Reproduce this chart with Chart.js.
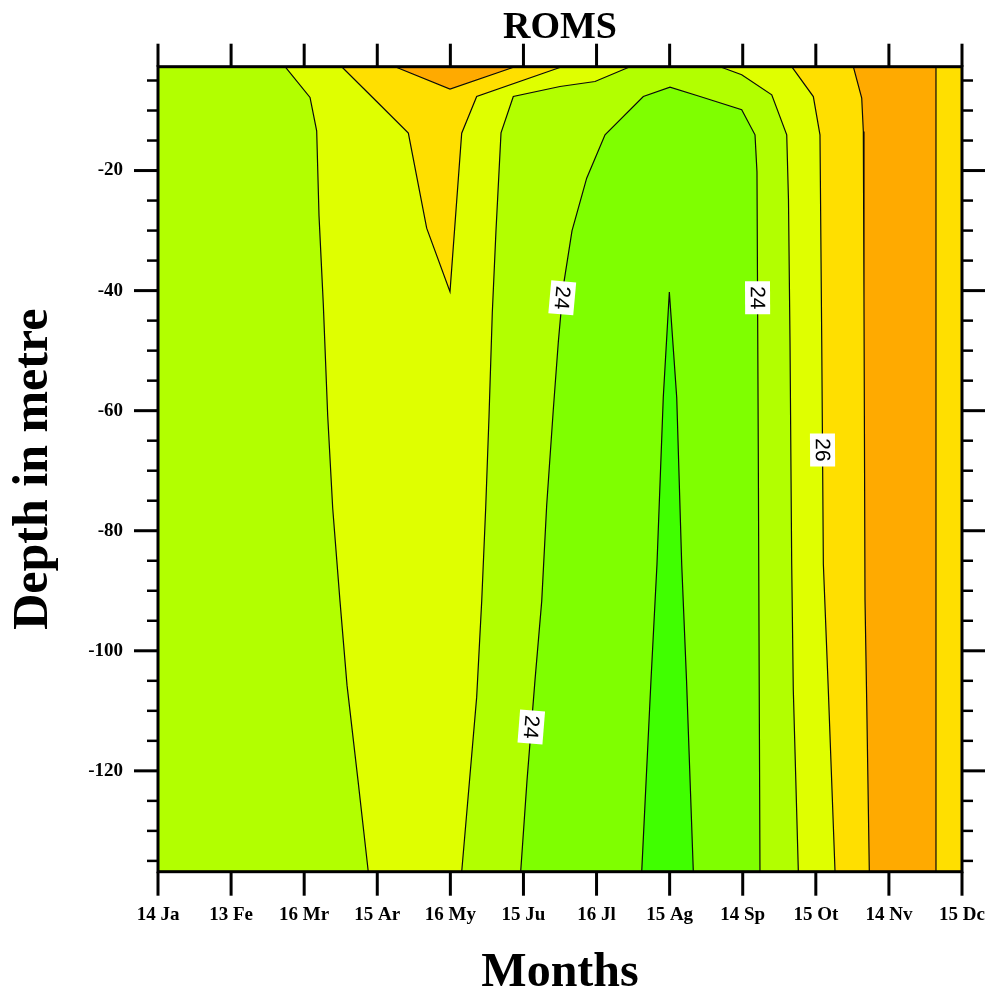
<!DOCTYPE html>
<html>
<head>
<meta charset="utf-8">
<title>ROMS</title>
<style>
  html, body { margin: 0; padding: 0; background: #ffffff; }
  canvas { display: block; }
</style>
<script src="https://cdn.jsdelivr.net/npm/chart.js@4.4.1/dist/chart.umd.min.js"></script>
</head>
<body>
<canvas id="chart" width="985" height="999"></canvas>
<script>
// Axis labels and ticks
const months = ['14 Ja', '13 Fe', '16 Mr', '15 Ar', '16 My', '15 Ju', '16 Jl', '15 Ag', '14 Sp', '15 Ot', '14 Nv', '15 Dc'];
const depthMajor = [-20, -40, -60, -80, -100, -120];
const depthMinor = [-5, -10, -15, -25, -30, -35, -45, -50, -55, -65, -70, -75, -85, -90, -95, -105, -110, -115, -125, -130, -135];
const depthTop = -2.7;
const depthBottom = -136.8;

// Temperature contour lines (degC), as [month index, depth in m]
const c25West = [[1.738, -2.7], [2.080, -7.83], [2.171, -13.38], [2.203, -27.55], [2.262, -42.38], [2.322, -60.88], [2.390, -76.22], [2.490, -91.72], [2.586, -105.72], [2.736, -121.55], [2.877, -136.8]];
const c26Vee = [[2.513, -2.7], [2.992, -8.5], [3.425, -13.77], [3.676, -29.6], [3.995, -40.17], [4.155, -13.77], [4.360, -7.67], [5.527, -2.7]];
const c27Cap = [[3.243, -2.7], [3.995, -6.43], [4.884, -2.7]];
const c25Mid = [[4.155, -136.8], [4.360, -107.72], [4.429, -91.72], [4.483, -76.3], [4.529, -60.88], [4.574, -43.62], [4.624, -30.05], [4.693, -13.72], [4.861, -7.67], [5.500, -6.0], [5.979, -5.17], [6.458, -2.7]];
const c24Dome = [[4.962, -136.8], [5.049, -121.55], [5.158, -104.88], [5.250, -91.72], [5.318, -75.72], [5.408, -59.88], [5.477, -48.55], [5.545, -39.3], [5.664, -30.05], [5.865, -21.27], [6.116, -14.05], [6.640, -7.67], [7.005, -6.1], [7.416, -7.67], [7.986, -9.88], [8.168, -14.05], [8.195, -20.22], [8.213, -67.05], [8.236, -136.8]];
const c23Core = [[6.618, -136.8], [6.745, -104.88], [6.827, -85.55], [6.913, -57.8], [6.996, -40.22], [7.097, -57.8], [7.165, -85.55], [7.231, -104.88], [7.324, -136.8]];
const c25East = [[7.689, -2.7], [7.986, -4.05], [8.397, -7.38], [8.602, -14.05], [8.626, -24.88], [8.647, -48.55], [8.670, -85.55], [8.692, -106.55], [8.761, -136.8]];
const c26East = [[8.670, -2.7], [8.966, -7.67], [9.057, -14.05], [9.081, -48.55], [9.103, -85.55], [9.171, -106.55], [9.263, -136.8]];
const c27East = [[9.513, -2.7], [9.628, -7.93], [9.650, -13.5], [9.659, -41.55], [9.673, -91.55], [9.696, -108.22], [9.732, -136.8]];
const c27Dec = [[10.644, -2.7], [10.644, -136.8]];

const contourLines = [c25West, c26Vee, c27Cap, c25Mid, c24Dome, c23Core, c25East, c26East, c27East, c27Dec];
const contourLevels = [25, 26, 27, 25, 24, 23, 25, 26, 27, 27];

// Inline level labels: [contour index, month index, depth]
const labelSpots = [[4, 5.531, -41.2], [4, 5.107, -112.7], [4, 8.203, -41.2], [7, 9.092, -66.55]];

// Fill colours for the bands <23, 23-24, 24-25, 25-26, 26-27, 27-28
const bandColors = ['#40ff00', '#7fff00', '#b2ff00', '#dfff00', '#ffdf00', '#ffaa00'];

// Filled bands, painted back to front
const plotBox = [[0, depthTop], [11, depthTop], [11, depthBottom], [0, depthBottom]];
const bandShapes = [
  { band: 2, pts: plotBox },
  { band: 3, pts: c25West.concat(c25Mid) },
  { band: 3, pts: c25East.concat([[11, depthBottom], [11, depthTop]]) },
  { band: 4, pts: c26Vee },
  { band: 4, pts: c26East.concat([[11, depthBottom], [11, depthTop]]) },
  { band: 5, pts: c27Cap },
  { band: 5, pts: c27East.concat(c27Dec.slice().reverse()) },
  { band: 1, pts: c24Dome },
  { band: 0, pts: c23Core }
];

const toXY = pts => pts.map(([x, y]) => ({ x, y }));
const total = bandShapes.length + contourLines.length;
const datasets = [];
bandShapes.forEach((s, k) => {
  datasets.push({
    data: toXY(s.pts),
    showLine: true,
    fill: 'shape',
    backgroundColor: bandColors[s.band],
    borderColor: 'rgba(0,0,0,0)',
    borderWidth: 0,
    pointRadius: 0,
    pointHoverRadius: 0,
    tension: 0,
    order: total - k
  });
});
contourLines.forEach((c, k) => {
  datasets.push({
    data: toXY(c),
    showLine: true,
    fill: false,
    borderColor: '#0a0a0a',
    borderWidth: 1.2,
    pointRadius: 0,
    pointHoverRadius: 0,
    tension: 0,
    order: total - bandShapes.length - k
  });
});

const serifBold = (size) => ({ family: '"Liberation Serif", "Times New Roman", serif', weight: 'bold', size: size, lineHeight: 1 });

// Contour labels: white boxes with rotated level text along the line
const contourLabelPlugin = {
  id: 'contourLabels',
  afterDatasetsDraw(chart) {
    const { ctx, scales: { x, y } } = chart;
    labelSpots.forEach(([ci, m, d]) => {
      const line = contourLines[ci];
      const px = x.getPixelForValue(m);
      const py = y.getPixelForValue(d);
      // nearest segment gives the label direction
      let best = null, bestDist = Infinity;
      for (let i = 0; i < line.length - 1; i++) {
        const ax = x.getPixelForValue(line[i][0]), ay = y.getPixelForValue(line[i][1]);
        const bx = x.getPixelForValue(line[i + 1][0]), by = y.getPixelForValue(line[i + 1][1]);
        const vx = bx - ax, vy = by - ay;
        const len2 = vx * vx + vy * vy;
        let t = len2 ? ((px - ax) * vx + (py - ay) * vy) / len2 : 0;
        t = Math.max(0, Math.min(1, t));
        const qx = ax + t * vx - px, qy = ay + t * vy - py;
        const dist = qx * qx + qy * qy;
        if (dist < bestDist) { bestDist = dist; best = [vx, vy]; }
      }
      let [vx, vy] = best;
      if (vy < 0) { vx = -vx; vy = -vy; }
      const ang = Math.atan2(vy, vx);
      ctx.save();
      ctx.translate(px, py);
      ctx.rotate(ang);
      ctx.fillStyle = '#ffffff';
      ctx.fillRect(-16.5, -12.5, 33, 25);
      ctx.fillStyle = '#000000';
      ctx.font = '21px "Liberation Sans", Arial, sans-serif';
      ctx.textAlign = 'center';
      ctx.textBaseline = 'middle';
      ctx.fillText(String(contourLevels[ci]), 0, 1);
      ctx.restore();
    });
  }
};

// Frame and outward tick marks on all four sides
const frameTicksPlugin = {
  id: 'frameTicks',
  afterDraw(chart) {
    const { ctx, chartArea: a, scales: { x, y } } = chart;
    ctx.save();
    ctx.strokeStyle = '#000000';
    ctx.lineCap = 'butt';
    const seg = (x1, y1, x2, y2, w) => {
      ctx.lineWidth = w;
      ctx.beginPath();
      ctx.moveTo(x1, y1);
      ctx.lineTo(x2, y2);
      ctx.stroke();
    };
    months.forEach((_, i) => {
      const px = x.getPixelForValue(i);
      seg(px, a.bottom, px, a.bottom + 24, 3);
      seg(px, a.top, px, a.top - 23, 3);
    });
    depthMajor.forEach(v => {
      const py = y.getPixelForValue(v);
      seg(a.left - 24, py, a.left, py, 3);
      seg(a.right, py, a.right + 24, py, 3);
    });
    depthMinor.forEach(v => {
      const py = y.getPixelForValue(v);
      seg(a.left - 11, py, a.left, py, 2.5);
      seg(a.right, py, a.right + 11, py, 2.5);
    });
    ctx.lineWidth = 3;
    ctx.strokeRect(a.left, a.top, a.right - a.left, a.bottom - a.top);
    ctx.restore();
  }
};

new Chart(document.getElementById('chart'), {
  type: 'scatter',
  data: { datasets },
  options: {
    responsive: false,
    animation: false,
    devicePixelRatio: 1,
    events: [],
    layout: { padding: { left: 0, right: 23, top: 0, bottom: 0 } },
    plugins: {
      legend: { display: false },
      tooltip: { enabled: false },
      filler: { propagate: false },
      title: {
        display: true,
        text: 'ROMS',
        color: '#000000',
        fullSize: false,
        font: serifBold(38),
        padding: { top: 9, bottom: 19.7 }
      }
    },
    scales: {
      x: {
        type: 'linear',
        position: 'bottom',
        min: 0,
        max: 11,
        afterBuildTicks: s => { s.ticks = months.map((_, i) => ({ value: i })); },
        afterFit: s => { s.height = 127.3; s.paddingLeft = 0; s.paddingRight = 0; },
        ticks: {
          callback: v => months[v],
          autoSkip: false,
          maxRotation: 0,
          color: '#000000',
          font: serifBold(19),
          padding: 10
        },
        grid: { display: true, drawOnChartArea: false, drawTicks: true, tickLength: 24, tickColor: 'rgba(0,0,0,0)', color: 'rgba(0,0,0,0)' },
        border: { display: false },
        title: {
          display: true,
          text: 'Months',
          color: '#000000',
          font: serifBold(48),
          padding: { top: 0, bottom: 1 }
        }
      },
      y: {
        type: 'linear',
        position: 'left',
        min: depthBottom,
        max: depthTop,
        afterBuildTicks: s => { s.ticks = depthMajor.map(v => ({ value: v })); },
        afterFit: s => { s.width = 158; s.paddingTop = 0; s.paddingBottom = 0; },
        ticks: {
          callback: v => String(v),
          color: '#000000',
          font: serifBold(19),
          padding: 11
        },
        grid: { display: true, drawOnChartArea: false, drawTicks: true, tickLength: 24, tickColor: 'rgba(0,0,0,0)', color: 'rgba(0,0,0,0)' },
        border: { display: false },
        title: {
          display: true,
          text: 'Depth in metre',
          color: '#000000',
          font: serifBold(50),
          padding: { top: 9, bottom: 0 }
        }
      }
    }
  },
  plugins: [contourLabelPlugin, frameTicksPlugin]
});
</script>
</body>
</html>
